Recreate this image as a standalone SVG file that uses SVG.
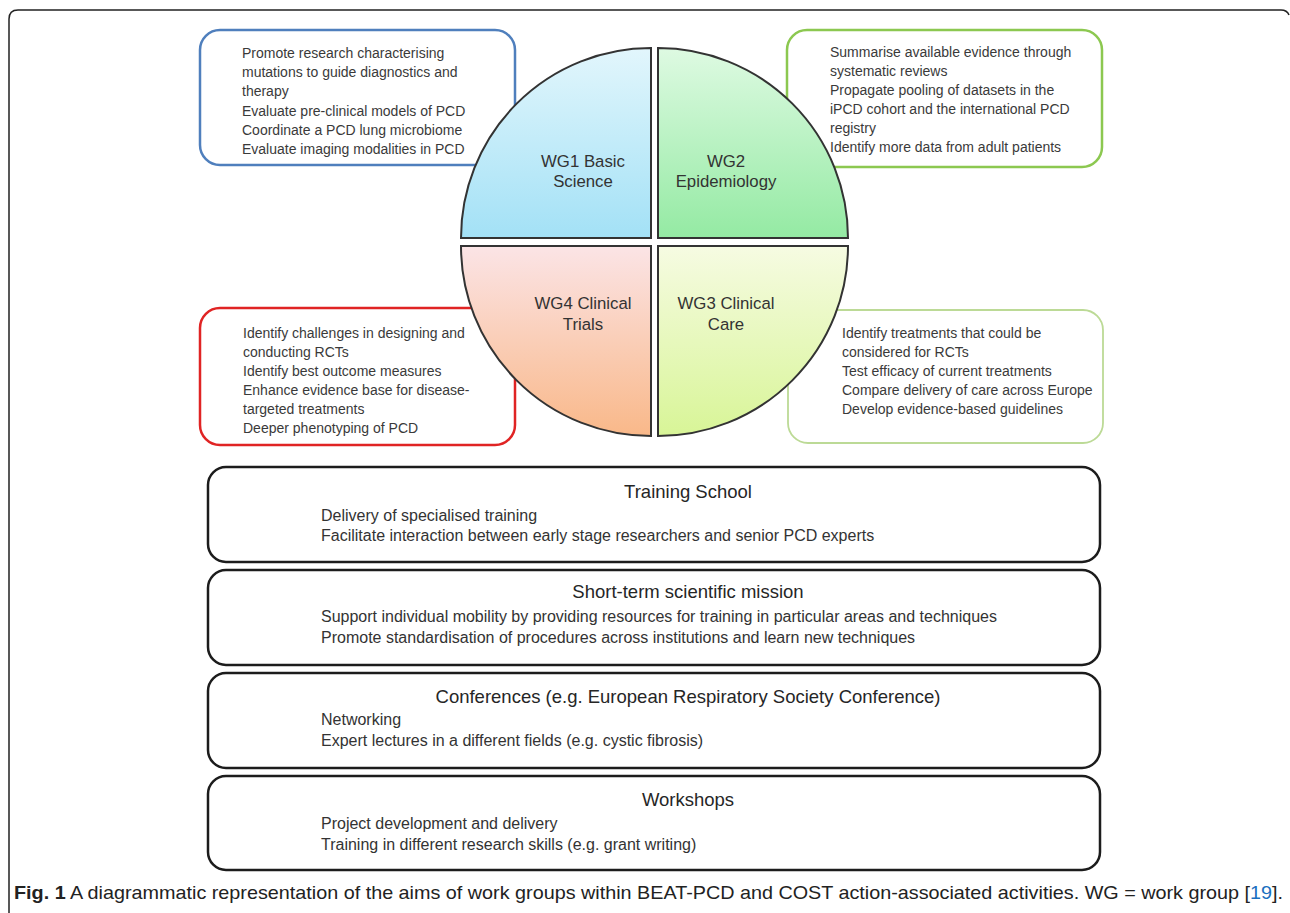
<svg xmlns="http://www.w3.org/2000/svg" width="1290" height="913" viewBox="0 0 1290 913">
<defs>
<linearGradient id="gBlue" x1="0" y1="0" x2="0" y2="1"><stop offset="0" stop-color="#e2f6fc"/><stop offset="1" stop-color="#a3e1f6"/></linearGradient>
<linearGradient id="gGreen" x1="0" y1="0" x2="0" y2="1"><stop offset="0" stop-color="#defae2"/><stop offset="1" stop-color="#94eaa3"/></linearGradient>
<linearGradient id="gOrange" x1="0" y1="0" x2="0" y2="1"><stop offset="0" stop-color="#fbe4e6"/><stop offset="1" stop-color="#f9b889"/></linearGradient>
<linearGradient id="gYellow" x1="0" y1="0" x2="0" y2="1"><stop offset="0" stop-color="#f6fbe2"/><stop offset="1" stop-color="#d8f597"/></linearGradient>
</defs>
<style>
text{font-family:"Liberation Sans",Arial,sans-serif;fill:#3a3a3a}
.aim{font-size:14px}
.wg{font-size:16.8px;fill:#333;text-anchor:middle}
.ttl{font-size:18.5px;fill:#262626;text-anchor:middle}
.bd{font-size:16px;fill:#333}
.box{fill:#fff;stroke-width:2.5}
.act{fill:#fff;stroke:#1c1c1c;stroke-width:2.5}
.q{stroke:#333;stroke-width:2}
.cap{font-size:19px;fill:#222}
</style>
<rect width="1290" height="913" fill="#fff"/>
<path d="M 9 913 V 19 Q 9 10 18 10 H 1281 Q 1287 10 1289 15" fill="none" stroke="#222" stroke-width="1.5"/>

<g id="aims-wg1">
<rect class="box" x="200" y="30" width="315" height="135" rx="20" stroke="#4f7fbd"/>
<text class="aim" x="242"><tspan x="242" y="58">Promote research characterising</tspan><tspan x="242" y="77">mutations to guide diagnostics and</tspan><tspan x="242" y="96">therapy</tspan><tspan x="242" y="116">Evaluate pre-clinical models of PCD</tspan><tspan x="242" y="135">Coordinate a PCD lung microbiome</tspan><tspan x="242" y="154">Evaluate imaging modalities in PCD</tspan></text>
</g>
<g id="aims-wg2">
<rect class="box" x="787" y="30" width="315" height="137" rx="20" stroke="#8cc850"/>
<text class="aim"><tspan x="830" y="57">Summarise available evidence through</tspan><tspan x="830" y="76">systematic reviews</tspan><tspan x="830" y="95">Propagate pooling of datasets in the</tspan><tspan x="830" y="114">iPCD cohort and the international PCD</tspan><tspan x="830" y="133">registry</tspan><tspan x="830" y="152">Identify more data from adult patients</tspan></text>
</g>
<g id="aims-wg4">
<rect class="box" x="200" y="308" width="315" height="137" rx="20" stroke="#e02424"/>
<text class="aim"><tspan x="243" y="338">Identify challenges in designing and</tspan><tspan x="243" y="357">conducting RCTs</tspan><tspan x="243" y="376">Identify best outcome measures</tspan><tspan x="243" y="395">Enhance evidence base for disease-</tspan><tspan x="243" y="414">targeted treatments</tspan><tspan x="243" y="433">Deeper phenotyping of PCD</tspan></text>
</g>
<g id="aims-wg3">
<rect class="box" x="788" y="310" width="315" height="133" rx="20" stroke="#bcda96" style="stroke-width:1.8"/>
<text class="aim"><tspan x="842" y="338">Identify treatments that could be</tspan><tspan x="842" y="357">considered for RCTs</tspan><tspan x="842" y="376">Test efficacy of current treatments</tspan><tspan x="842" y="395">Compare delivery of care across Europe</tspan><tspan x="842" y="414">Develop evidence-based guidelines</tspan></text>
</g>

<g id="wg1">
<path class="q" d="M 651 238 H 461 A 190 190 0 0 1 651 48 Z" fill="url(#gBlue)"/>
<text class="wg"><tspan x="583" y="167">WG1 Basic</tspan><tspan x="583" y="187">Science</tspan></text>
</g>
<g id="wg2">
<path class="q" d="M 658 238 V 48 A 190 190 0 0 1 848 238 Z" fill="url(#gGreen)"/>
<text class="wg"><tspan x="726" y="167">WG2</tspan><tspan x="726" y="187">Epidemiology</tspan></text>
</g>
<g id="wg3">
<path class="q" d="M 658 246 H 848 A 190 190 0 0 1 658 436 Z" fill="url(#gYellow)"/>
<text class="wg"><tspan x="726" y="309">WG3 Clinical</tspan><tspan x="726" y="330">Care</tspan></text>
</g>
<g id="wg4">
<path class="q" d="M 651 246 V 436 A 190 190 0 0 1 461 246 Z" fill="url(#gOrange)"/>
<text class="wg"><tspan x="583" y="309">WG4 Clinical</tspan><tspan x="583" y="330">Trials</tspan></text>
</g>

<g id="training-school">
<rect class="act" x="208" y="467" width="892" height="95" rx="18"/>
<text class="ttl" x="688" y="498">Training School</text>
<text class="bd"><tspan x="321" y="521">Delivery of specialised training</tspan><tspan x="321" y="541">Facilitate interaction between early stage researchers and senior PCD experts</tspan></text>
</g>
<g id="short-term-mission">
<rect class="act" x="208" y="570" width="892" height="95" rx="18"/>
<text class="ttl" x="688" y="598">Short-term scientific mission</text>
<text class="bd"><tspan x="321" y="622">Support individual mobility by providing resources for training in particular areas and techniques</tspan><tspan x="321" y="643">Promote standardisation of procedures across institutions and learn new techniques</tspan></text>
</g>
<g id="conferences">
<rect class="act" x="208" y="673" width="892" height="95" rx="18"/>
<text class="ttl" x="688" y="703">Conferences (e.g. European Respiratory Society Conference)</text>
<text class="bd"><tspan x="321" y="725">Networking</tspan><tspan x="321" y="746">Expert lectures in a different fields (e.g. cystic fibrosis)</tspan></text>
</g>
<g id="workshops">
<rect class="act" x="208" y="776" width="892" height="94" rx="18"/>
<text class="ttl" x="688" y="806">Workshops</text>
<text class="bd"><tspan x="321" y="829">Project development and delivery</tspan><tspan x="321" y="850">Training in  different research skills (e.g. grant writing)</tspan></text>
</g>

<g id="connectors"></g>

<text class="cap" x="14" y="899" textLength="1269" lengthAdjust="spacingAndGlyphs" xml:space="preserve"><tspan font-weight="bold">Fig. 1</tspan> A diagrammatic representation of the aims of work groups within BEAT-PCD and COST action-associated activities. WG = work group [<tspan fill="#1a6fc0">19</tspan>].</text>
</svg>
